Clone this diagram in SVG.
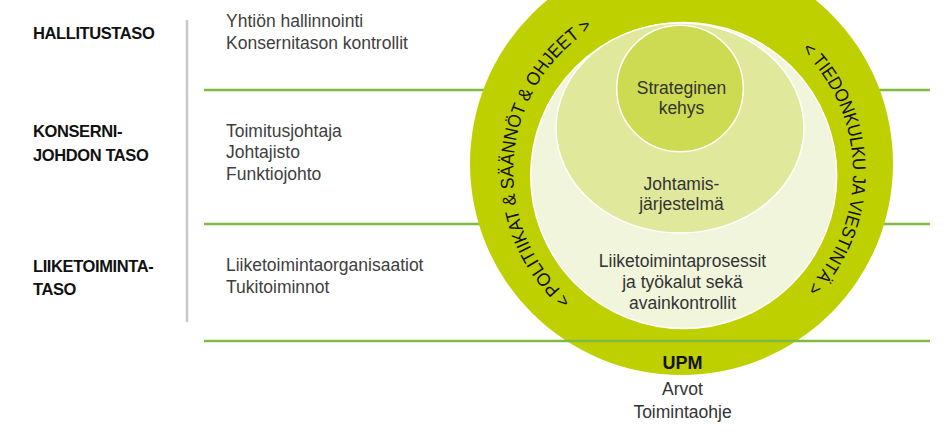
<svg xmlns="http://www.w3.org/2000/svg" width="950" height="432" viewBox="0 0 950 432">
<style>
  .lvl { font-family: "Liberation Sans", Arial, sans-serif; font-weight: bold; font-size: 16.5px; fill: #111; letter-spacing: -0.4px; }
  .desc { font-family: "Liberation Sans", Arial, sans-serif; font-size: 17.5px; fill: #404040; }
  .inner { font-family: "Liberation Sans", Arial, sans-serif; font-size: 17.5px; fill: #333; text-anchor: middle; }
  .ring { font-family: "Liberation Sans", Arial, sans-serif; font-size: 18.5px; fill: #111; }
  .sep { stroke: #7dbb42; stroke-width: 2.5; }
  .halo { stroke: #ffffff; stroke-width: 1.5; }
</style>
<defs>
  <path id="arcLeft" d="M571.8,300.3 A170,170 0 0,1 592.9,27.8" fill="none"/>
  <path id="arcRight" d="M801.1,49.7 A170,170 0 0,1 806.3,289.0" fill="none"/>
</defs>
<rect width="950" height="432" fill="#ffffff"/>

<g id="divider">
  <line x1="187" y1="20" x2="187" y2="322" stroke="#c8c8c8" stroke-width="2.5"/>
</g>

<g id="separators">
  <line class="sep" x1="204" y1="90" x2="930" y2="90"/>
  <line class="sep" x1="204" y1="224" x2="930" y2="224"/>
</g>

<g id="level-hallitus">
  <text class="lvl" x="33" y="39">HALLITUSTASO</text>
  <text class="desc" x="226" y="26.5">Yhtiön hallinnointi</text>
  <text class="desc" x="226" y="48.5">Konsernitason kontrollit</text>
</g>
<g id="level-konsernijohto">
  <text class="lvl" x="33" y="137">KONSERNI-</text>
  <text class="lvl" x="33" y="160.5">JOHDON TASO</text>
  <text class="desc" x="226" y="136.5">Toimitusjohtaja</text>
  <text class="desc" x="226" y="158">Johtajisto</text>
  <text class="desc" x="226" y="179.5">Funktiojohto</text>
</g>
<g id="level-liiketoiminta">
  <text class="lvl" x="33" y="271.5">LIIKETOIMINTA-</text>
  <text class="lvl" x="33" y="295">TASO</text>
  <text class="desc" x="226" y="271">Liiketoimintaorganisaatiot</text>
  <text class="desc" x="226" y="292.5">Tukitoiminnot</text>
</g>

<g id="outer-ring">
  <circle cx="681.5" cy="163.5" r="211.5" fill="#bfd000"/>
  <text class="ring" textLength="316" lengthAdjust="spacingAndGlyphs"><textPath href="#arcLeft" startOffset="50%" text-anchor="middle">&lt; POLITIIKAT &amp; SÄÄNNÖT &amp; OHJEET &gt;</textPath></text>
  <text class="ring" textLength="264" lengthAdjust="spacingAndGlyphs"><textPath href="#arcRight" startOffset="50%" text-anchor="middle">&lt; TIEDONKULKU JA VIESTINTÄ &gt;</textPath></text>
</g>

<g id="liiketoimintaprosessit">
  <circle class="halo" cx="683.7" cy="175.5" r="153" fill="#f1f5dc"/>
  <text class="inner" x="682.5" y="266.5">Liiketoimintaprosessit</text>
  <text class="inner" x="682.5" y="287.5">ja työkalut sekä</text>
  <text class="inner" x="682.5" y="308.5">avainkontrollit</text>
</g>

<g id="johtamisjarjestelma">
  <ellipse class="halo" cx="680" cy="128" rx="124" ry="105" fill="#e0e89c"/>
  <text class="inner" x="681.5" y="190">Johtamis-</text>
  <text class="inner" x="681.5" y="210">järjestelmä</text>
</g>

<g id="strateginen-kehys">
  <circle class="halo" cx="680" cy="88.5" r="63.3" fill="#ccdb52"/>
  <text class="inner" x="681.5" y="94">Strateginen</text>
  <text class="inner" x="681.5" y="114">kehys</text>
</g>

<g id="bottom-separator">
  <line class="sep" x1="204" y1="341" x2="930" y2="341"/>
</g>

<g id="upm">
  <text x="682.5" y="368.5" text-anchor="middle" font-family="Liberation Sans, Arial, sans-serif" font-weight="bold" font-size="18" fill="#111">UPM</text>
  <text class="inner" x="682.5" y="395">Arvot</text>
  <text class="inner" x="682.5" y="418">Toimintaohje</text>
</g>
</svg>
